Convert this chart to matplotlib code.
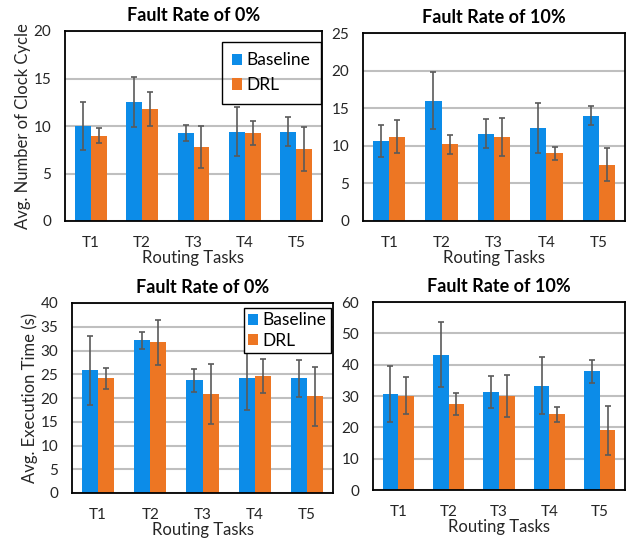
import matplotlib
matplotlib.use("Agg")
import matplotlib.pyplot as plt
import numpy as np

plt.rcParams['font.family'] = ['Lato', 'DejaVu Sans']

tasks = ['T1', 'T2', 'T3', 'T4', 'T5']

# clock cycles, fault rate 0%
cc0_base = [10.0, 12.5, 9.25, 9.4, 9.4]
cc0_base_err = [2.55, 2.65, 0.85, 2.55, 1.5]
cc0_drl = [9.0, 11.8, 7.8, 9.25, 7.6]
cc0_drl_err = [0.8, 1.8, 2.2, 1.3, 2.3]

# clock cycles, fault rate 10%
cc10_base = [10.6, 16.0, 11.6, 12.35, 14.0]
cc10_base_err = [2.1, 3.75, 1.9, 3.35, 1.3]
cc10_drl = [11.2, 10.2, 11.2, 9.0, 7.5]
cc10_drl_err = [2.2, 1.3, 2.5, 0.85, 2.15]

# execution time, fault rate 0%
et0_base = [25.8, 32.2, 23.7, 24.2, 24.2]
et0_base_err = [7.3, 1.8, 2.5, 6.7, 3.9]
et0_drl = [24.2, 31.7, 20.9, 24.6, 20.4]
et0_drl_err = [2.2, 4.75, 6.3, 3.6, 6.2]

# execution time, fault rate 10%
et10_base = [30.6, 43.2, 31.4, 33.3, 37.9]
et10_base_err = [8.85, 10.3, 5.1, 9.1, 3.6]
et10_drl = [30.1, 27.5, 30.1, 24.1, 19.0]
et10_drl_err = [6.0, 3.5, 6.7, 2.4, 7.7]

BLUE = '#0C8CE8'
ORANGE = '#ED7623'
ERR = '#5A5A5A'
GRID = '#BFBFBF'

fig = plt.figure(figsize=(6.3, 5.39), dpi=100)


def panel(rect, base, base_err, drl, drl_err, ymax, ystep, title, ylabel=None,
          legend=None):
    ax = fig.add_axes(rect)
    x = np.arange(len(tasks))
    w = 0.31
    ek = dict(ecolor=ERR, elinewidth=1.2, capsize=2.5, capthick=1.2)
    ax.bar(x - w / 2, base, w, yerr=base_err, color=BLUE, label='Baseline',
           error_kw=ek, zorder=2)
    ax.bar(x + w / 2, drl, w, yerr=drl_err, color=ORANGE, label='DRL',
           error_kw=ek, zorder=2)
    ax.set_xlim(-0.5, len(tasks) - 0.5)
    ax.set_ylim(0, ymax)
    ax.set_yticks(np.arange(0, ymax + 0.1, ystep))
    ax.set_xticks(x)
    ax.set_xticklabels(tasks)
    ax.yaxis.grid(True, color=GRID, linewidth=1.5, zorder=0)
    ax.set_axisbelow(True)
    ax.tick_params(length=0, labelsize=11, colors='#262626')
    ax.tick_params(axis='y', pad=10)
    ax.tick_params(axis='x', pad=11)
    for s in ax.spines.values():
        s.set_linewidth(1.3)
        s.set_color('black')
    ax.set_xlabel('Routing Tasks', fontsize=12, labelpad=0, color='#262626')
    if ylabel:
        ax.set_ylabel(ylabel, fontsize=12, color='#262626', labelpad=2)
    ax.set_title(title, fontsize=13, fontweight='bold', pad=7)
    if legend:
        anchor, opaque, bpad, lspace = legend
        leg = ax.legend(loc='upper right', bbox_to_anchor=anchor, fontsize=12.5,
                        handlelength=0.6, handleheight=0.6, handletextpad=0.25,
                        borderpad=bpad, labelspacing=lspace, fancybox=False,
                        edgecolor='black', borderaxespad=0, framealpha=1)
        frame = leg.get_frame()
        frame.set_linewidth(1.0)
        if not opaque:
            # grid lines show through this box
            frame.set_facecolor('none')
    return ax


panel([65 / 630, 318 / 539, 257 / 630, 190 / 539], cc0_base, cc0_base_err,
      cc0_drl, cc0_drl_err, 20, 5, 'Fault Rate of 0%',
      ylabel='Avg. Number of Clock Cycle',
      legend=((0.996, 0.942), False, 0.6, 0.5))
panel([363 / 630, 318 / 539, 262 / 630, 188 / 539], cc10_base, cc10_base_err,
      cc10_drl, cc10_drl_err, 25, 5, 'Fault Rate of 10%')
panel([72 / 630, 46 / 539, 261 / 630, 190 / 539], et0_base, et0_base_err,
      et0_drl, et0_drl_err, 40, 5, 'Fault Rate of 0%',
      ylabel='Avg. Execution Time (s)',
      legend=((0.992, 0.974), True, 0.25, 0.25))
panel([373 / 630, 49 / 539, 252 / 630, 188 / 539], et10_base, et10_base_err,
      et10_drl, et10_drl_err, 60, 10, 'Fault Rate of 10%')

fig.savefig('out.png', dpi=100)
